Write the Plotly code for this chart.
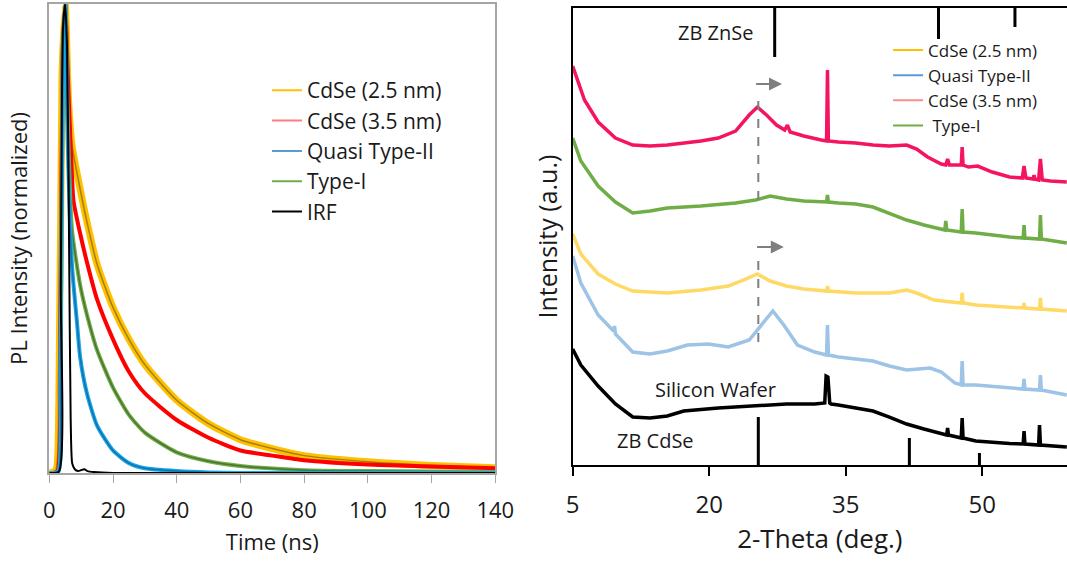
import plotly.graph_objects as go

# ---------------- Left panel: PL decay (normalized) ----------------
t_cdse25 = [0, 2, 3, 4, 5, 6, 7.1, 9.7, 11.8, 15, 20, 25, 30, 40, 50, 60, 70, 80, 100, 120, 140]
y_cdse25 = [0, 0.005, 0.15, 0.85, 1.0, 0.80, 0.70, 0.605, 0.536, 0.445, 0.353, 0.285, 0.231, 0.155,
            0.105, 0.071, 0.052, 0.037, 0.024, 0.016, 0.011]

t_cdse35 = [0, 2.5, 3.3, 4.2, 5, 5.8, 7, 7.6, 9.7, 11.8, 15, 20, 25, 30, 40, 50, 60, 70, 80, 100, 120, 140]
y_cdse35 = [0, 0.003, 0.2, 0.9, 1.0, 0.85, 0.65, 0.58, 0.51, 0.45, 0.37, 0.285, 0.216, 0.170, 0.113,
            0.075, 0.048, 0.037, 0.027, 0.018, 0.014, 0.010]

t_typeI = [0, 2.8, 3.5, 4.3, 5, 5.8, 7.1, 9.7, 11.8, 15, 20, 25, 30, 40, 50, 60, 80, 100, 140]
y_typeI = [0, 0.003, 0.2, 0.9, 1.0, 0.75, 0.52, 0.40, 0.338, 0.262, 0.182, 0.124, 0.086, 0.044,
           0.025, 0.015, 0.006, 0.004, 0.002]

t_quasi = [0, 2.8, 3.5, 4.3, 5, 5.8, 7.1, 8.7, 9.7, 11.8, 15, 20, 25, 30, 40, 50, 60, 140]
y_quasi = [0, 0.003, 0.2, 0.9, 1.0, 0.7, 0.445, 0.32, 0.246, 0.17, 0.101, 0.048, 0.021, 0.010,
           0.004, 0.001, 0, 0]

t_irf = [0, 3, 3.6, 4.3, 5, 5.6, 6.2, 6.7, 7.2, 8, 9, 11, 12, 14, 20, 140]
y_irf = [0, 0.003, 0.4, 0.95, 1.0, 0.9, 0.5, 0.12, 0.02, 0.008, 0.004, 0.008, 0.004, 0.002, 0, 0]

time_ticks = [0, 20, 40, 60, 80, 100, 120, 140]

# ---------------- Right panel: XRD patterns ----------------
tt_cdse35 = [5, 6.3, 7.8, 9.7, 11.6, 13.5, 15.4, 17.2, 19.1, 21.0, 22.9, 24.4, 25.3, 26.3, 27.4, 28.3,
             28.6, 28.9, 30.4, 32.3, 32.9, 33.0, 33.1, 34.2, 36.1, 38.0, 39.8, 41.7, 42.8, 44.0, 45.5,
             46.0, 46.2, 46.4, 47.0, 47.7, 47.8, 47.9, 48.5, 49.5, 51.1, 53.0, 54.4, 54.6, 54.8, 55.6,
             55.7, 55.8, 56.2, 56.4, 56.6, 57.5, 59.3]
i_cdse35 = [399, 365, 343, 327, 320, 319, 320, 322, 324, 327, 334, 350, 358, 350, 340, 335,
            340, 333, 329, 325, 324, 395, 324, 323, 322, 320, 319, 320, 316, 308, 301,
            300, 306, 300, 300, 300, 318, 300, 298, 299, 293, 288, 287, 299, 287, 286,
            290, 286, 285, 306, 285, 284, 283]

tt_typeI = [5, 5.9, 7.8, 9.7, 11.6, 13.5, 15.4, 19.1, 22.9, 25.1, 26.7, 28.5, 30.4, 32.9, 33.0, 33.1,
            34.2, 36.1, 38.0, 39.8, 41.7, 43.6, 45.5, 45.9, 46.0, 46.1, 47.7, 47.8, 47.9, 49.3, 53.0,
            54.5, 54.6, 54.7, 56.3, 56.4, 56.5, 59.3]
i_typeI = [327, 304, 279, 263, 252, 254, 257, 259, 262, 265, 269, 266, 264, 263, 270, 263,
           262, 261, 258, 252, 245, 240, 236, 235, 244, 235, 233, 256, 233, 232, 228,
           227, 240, 227, 226, 250, 226, 222]

tt_cdse25 = [5, 5.9, 7.8, 9.7, 11.6, 15.4, 19.1, 22.1, 24.0, 25.3, 26.7, 28.5, 30.4, 32.9, 33.0, 33.1,
             36.1, 39.8, 41.7, 42.8, 44.7, 47.7, 47.8, 47.9, 49.3, 54.5, 54.6, 54.7, 56.3, 56.4, 56.5, 59.3]
i_cdse25 = [231, 211, 191, 181, 174, 172, 175, 179, 186, 191, 184, 179, 176, 174, 179, 174,
            172, 172, 175, 172, 165, 162, 172, 162, 160, 157, 162, 157, 156, 167, 156, 154]

tt_quasi = [5, 5.9, 7.8, 9.5, 9.6, 9.7, 11.6, 13.5, 15.4, 17.6, 19.9, 22.1, 24.4, 25.9, 27.0, 28.2, 29.7,
            31.6, 32.9, 33.0, 33.1, 34.2, 36.1, 38.0, 39.8, 41.7, 44.3, 45.5, 47.0, 47.7, 47.8, 47.9,
            49.3, 53.0, 54.5, 54.6, 54.7, 56.3, 56.4, 56.5, 59.3]
i_quasi = [209, 182, 150, 134, 139, 131, 113, 111, 114, 120, 121, 118, 125, 141, 154, 140, 120,
           113, 110, 140, 110, 108, 106, 104, 99, 95, 97, 93, 82, 80, 104, 80,
           80, 77, 76, 86, 76, 75, 90, 75, 70]

tt_si = [5, 5.9, 7.8, 9.7, 11.6, 13.5, 15.4, 17.2, 21.0, 24.8, 28.5, 31.6, 32.7, 32.85, 33.05, 33.25,
         33.4, 34.2, 36.1, 38.0, 39.8, 41.7, 43.6, 45.5, 46.1, 46.2, 46.3, 47.7, 47.8, 47.9, 49.3,
         53.0, 54.5, 54.6, 54.7, 56.2, 56.3, 56.4, 59.3]
i_si = [116, 100, 79, 61, 48, 47, 49, 54, 57, 59, 61, 61, 62, 89, 88, 62,
        61, 60, 57, 54, 48, 41, 36, 31, 30, 37, 30, 27, 47, 27, 24,
        21.5, 21, 34, 21, 20, 40, 20, 18]

theta_ticks = [5, 20, 35, 50]

# reference stick patterns
znse_pos = [27.2, 45.2, 53.6]
znse_len = [49, 31, 19]
cdse_pos = [25.4, 42.0, 49.7]
cdse_h = [48, 27, 12]
y2_top = 457

# peak-shift guides (dashed line at CdSe (111) position, arrows toward higher angle)
shift_pos = [25.4, 25.4]
shift_lo = [265, 123]
shift_hi = [373, 210]
arrow_from = [25.0, 25.1]
arrow_to = [28.0, 28.2]
arrow_y = [381, 218]

FONT = "Open Sans"
TXT = "#1a1a1a"

fig = go.Figure()

# ---- left traces ----
left = [
    ("CdSe (2.5 nm)", t_cdse25, y_cdse25, "#FFC000", 7, "rgba(140,110,25,0.8)"),
    ("CdSe (3.5 nm)", t_cdse35, y_cdse35, "#FF0000", 4, None),
    ("Type-I", t_typeI, y_typeI, "#70AD47", 4, "rgba(70,105,45,0.85)"),
    ("Quasi Type-II", t_quasi, y_quasi, "#14A8E6", 4, "rgba(25,100,165,0.85)"),
    ("IRF", t_irf, y_irf, "#000000", 2, None),
]
for name, t, y, c, w, fitc in left:
    fig.add_trace(go.Scatter(x=t, y=y, mode="lines", line=dict(color=c, width=w, shape="spline", smoothing=0.6),
                             showlegend=False, xaxis="x", yaxis="y", name=name))
    if fitc:
        fig.add_trace(go.Scatter(x=t, y=y, mode="lines", line=dict(color=fitc, width=1.5, shape="spline", smoothing=0.6),
                                 showlegend=False, xaxis="x", yaxis="y", name=name + " fit"))

# left legend entries
for name, c in [("CdSe (2.5 nm)", "#FFC000"), ("CdSe (3.5 nm)", "#FF7C80"), ("Quasi Type-II", "#5B9BD5"),
                ("Type-I", "#70AD47"), ("IRF", "#000000")]:
    fig.add_trace(go.Scatter(x=[None], y=[None], mode="lines", line=dict(color=c, width=2), name=name,
                             legend="legend", xaxis="x", yaxis="y"))

# ---- right traces ----
right = [
    ("CdSe (3.5 nm)", tt_cdse35, i_cdse35, "#F5145F"),
    ("Type-I", tt_typeI, i_typeI, "#70AD47"),
    ("CdSe (2.5 nm)", tt_cdse25, i_cdse25, "#FFD966"),
    ("Quasi Type-II", tt_quasi, i_quasi, "#9DC3E6"),
    ("Silicon Wafer", tt_si, i_si, "#000000"),
]
for name, x, y, c in right:
    fig.add_trace(go.Scatter(x=x, y=y, mode="lines", line=dict(color=c, width=3.5),
                             showlegend=False, xaxis="x2", yaxis="y2", name=name))

# stick patterns
zx, zy = [], []
for p, l in zip(znse_pos, znse_len):
    zx += [p, p, None]
    zy += [y2_top, y2_top - l, None]
fig.add_trace(go.Scatter(x=zx, y=zy, mode="lines", line=dict(color="black", width=3),
                         showlegend=False, xaxis="x2", yaxis="y2", name="ZB ZnSe", cliponaxis=False))
cx, cy = [], []
for p, h in zip(cdse_pos, cdse_h):
    cx += [p, p, None]
    cy += [0, h, None]
fig.add_trace(go.Scatter(x=cx, y=cy, mode="lines", line=dict(color="black", width=3),
                         showlegend=False, xaxis="x2", yaxis="y2", name="ZB CdSe"))

# dashed guides
dx, dy = [], []
for p, lo, hi in zip(shift_pos, shift_lo, shift_hi):
    dx += [p, p, None]
    dy += [lo, hi, None]
fig.add_trace(go.Scatter(x=dx, y=dy, mode="lines", line=dict(color="#7F7F7F", width=2, dash="dash"),
                         showlegend=False, xaxis="x2", yaxis="y2"))
for a0, a1, ay in zip(arrow_from, arrow_to, arrow_y):
    fig.add_annotation(x=a1, y=ay, ax=a0, ay=ay, xref="x2", yref="y2", axref="x2", ayref="y2",
                       showarrow=True, arrowhead=2, arrowsize=1.3, arrowwidth=2, arrowcolor="#7F7F7F", text="")

# right legend entries
for name, c in [("CdSe (2.5 nm)", "#FFC000"), ("Quasi Type-II", "#5B9BD5"), ("CdSe (3.5 nm)", "#FF8B8B"),
                (" Type-I", "#70AD47")]:
    fig.add_trace(go.Scatter(x=[None], y=[None], mode="lines", line=dict(color=c, width=2), name=name,
                             legend="legend2", xaxis="x2", yaxis="y2"))

# text labels
for txt, x, y in [("ZB ZnSe", 20.75, 433), ("Silicon Wafer", 20.75, 76), ("ZB CdSe", 14.1, 25)]:
    fig.add_annotation(x=x, y=y, xref="x2", yref="y2", text=txt, showarrow=False,
                       font=dict(family=FONT, size=20, color=TXT))

fig.update_layout(
    width=1067, height=561,
    margin=dict(l=0, r=0, t=0, b=0, autoexpand=False),
    paper_bgcolor="white", plot_bgcolor="white",
    font=dict(family=FONT, color=TXT),
    xaxis=dict(domain=[0.0462, 0.4642], range=[0, 140], tickvals=time_ticks, automargin=False,
               showline=True, linecolor="#A6A6A6", linewidth=1.5, mirror=True,
               ticks="outside", ticklen=8, tickcolor="#A6A6A6", showgrid=False, zeroline=False,
               tickfont=dict(size=22, color=TXT), ticklabelstandoff=9,
               title=dict(text="Time (ns)", font=dict(size=22, color=TXT), standoff=11)),
    yaxis=dict(domain=[0.1569, 0.9929], range=[0, 1.0], showticklabels=False, ticks="", automargin=False,
               showline=True, linecolor="#A6A6A6", linewidth=1.5, mirror=True,
               showgrid=False, zeroline=False,
               title=dict(text="PL Intensity (normalized)", font=dict(size=22, color=TXT), standoff=14)),
    xaxis2=dict(domain=[0.5367, 1.0], range=[5, 59.32], tickvals=theta_ticks, anchor="y2", automargin=False,
                showline=True, linecolor="black", linewidth=2, mirror=True,
                ticks="outside", ticklen=9, tickwidth=2, tickcolor="black", showgrid=False, zeroline=False,
                tickfont=dict(size=24, color=TXT), ticklabelstandoff=8,
                title=dict(text="2-Theta (deg.)", font=dict(size=26, color=TXT), standoff=11)),
    yaxis2=dict(domain=[0.1711, 0.9857], range=[0, y2_top], anchor="x2", showticklabels=False, ticks="",
                automargin=False, showline=True, linecolor="black", linewidth=2, showgrid=False, zeroline=False,
                title=dict(text="Intensity (a.u.)", font=dict(size=25, color=TXT), standoff=6)),
    legend=dict(x=0.2502, y=0.875, xanchor="left", yanchor="top", bgcolor="rgba(0,0,0,0)",
                font=dict(family=FONT, size=21, color=TXT), traceorder="normal"),
    legend2=dict(x=0.8323, y=0.942, xanchor="left", yanchor="top", bgcolor="rgba(0,0,0,0)",
                 font=dict(family=FONT, size=17, color=TXT), traceorder="normal"),
)

fig.write_html("out.html")
